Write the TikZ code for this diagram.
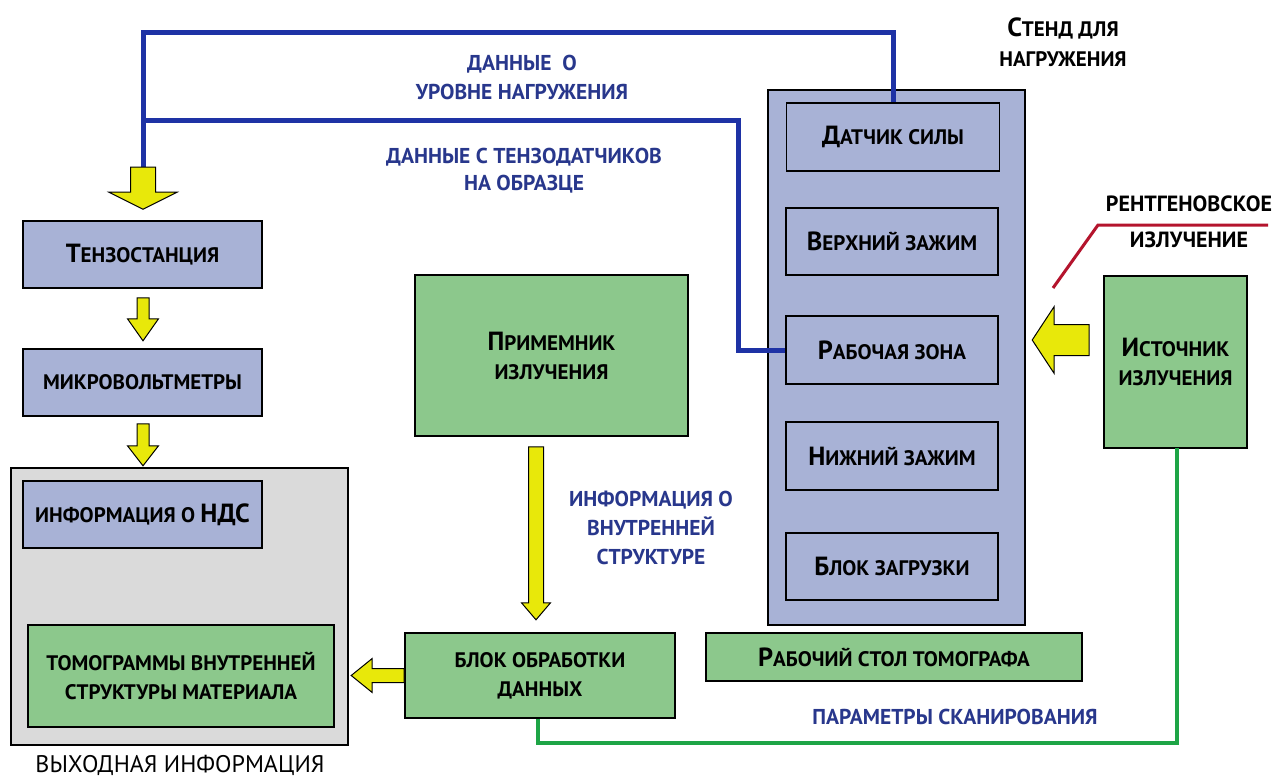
\documentclass[tikz,border=0pt]{standalone}
\usepackage{fontspec}
\setmainfont{PT Sans}
\usetikzlibrary{calc}
\definecolor{bfill}{RGB}{168,178,214}
\definecolor{gfill}{RGB}{140,200,140}
\definecolor{grayfill}{RGB}{218,218,218}
\definecolor{bline}{RGB}{30,50,165}
\definecolor{btext}{RGB}{40,55,140}
\definecolor{gline}{RGB}{30,165,70}
\definecolor{rline}{RGB}{180,20,45}
\definecolor{yel}{RGB}{232,232,10}
\newcommand\Ini[1]{\scalebox{1.25}{#1}}
\newcommand\darr[5]{\filldraw[yarr] (#1) ++(-#3,0) -- ++(0,#2-#5) -- ++(-#4+#3,0) -- ++(#4,#5) -- ++(#4,-#5) -- ++(-#4+#3,0) -- ++(0,-#2+#5) -- cycle;}
\newcommand\larr[5]{\filldraw[yarr] (#1) ++(0,-#3) -- ++(-#2+#5,0) -- ++(0,-#4+#3) -- ++(-#5,#4) -- ++(#5,#4) -- ++(0,-#4+#3) -- ++(#2-#5,0) -- cycle;}
\tikzset{
  box/.style={draw=black, line width=1.6pt, inner sep=0pt, align=center, font=\bfseries\fontsize{21}{29}\selectfont},
  bbox/.style={box, fill=bfill},
  gbox/.style={box, fill=gfill},
  yarr/.style={fill=yel, draw=black, line width=1pt, line join=miter},
  blue line/.style={draw=bline, line width=5pt},
  green line/.style={draw=gline, line width=4pt},
  blab/.style={text=btext, align=center, inner sep=0pt, font=\bfseries\fontsize{21.5}{29}\selectfont},
  plain/.style={align=center, inner sep=0pt, font=\bfseries\fontsize{21}{30}\selectfont}
}
\begin{document}
\begin{tikzpicture}[x=1pt,y=-1pt]
\useasboundingbox[fill=white] (0,0) rectangle (1282,781);
% output group
\node[box, fill=grayfill, minimum width=337, minimum height=277] (out) at (179.5,606.5) {};
\node[bbox, minimum width=239, minimum height=67] (tenzo) at (142.5,254.5) {\Ini{Т}ЕНЗОСТАНЦИЯ};
\node[bbox, minimum width=239, minimum height=67] (micro) at (142.5,382.5) {МИКРОВОЛЬТМЕТРЫ};
\node[bbox, minimum width=239, minimum height=67] (nds) at (142.5,514.5) {ИНФОРМАЦИЯ О \Ini{НДС}};
\node[gbox, minimum width=306, minimum height=102] (tomo) at (181,676) {ТОМОГРАММЫ ВНУТРЕННЕЙ\\СТРУКТУРЫ МАТЕРИАЛА};
\node[plain, font=\fontsize{24}{28}\selectfont] (outlab) at (180,765) {ВЫХОДНАЯ ИНФОРМАЦИЯ};
% centre
\node[gbox, minimum width=273, minimum height=161] (recv) at (551.5,355.5) {\Ini{П}РИМЕМНИК\\ИЗЛУЧЕНИЯ};
\node[gbox, minimum width=270, minimum height=85] (blok) at (540,675.5) {БЛОК ОБРАБОТКИ\\ДАННЫХ};
% stand
\node[bbox, minimum width=257, minimum height=535] (stand) at (896.5,357.5) {};
\node[bbox, minimum width=213, minimum height=68] (datchik) at (893,137) {\Ini{Д}АТЧИК СИЛЫ};
\node[bbox, minimum width=212, minimum height=67] (verh) at (892,241.5) {\Ini{В}ЕРХНИЙ ЗАЖИМ};
\node[bbox, minimum width=212, minimum height=68] (rab) at (892,350) {\Ini{Р}АБОЧАЯ ЗОНА};
\node[bbox, minimum width=212, minimum height=68] (nizh) at (892,456) {\Ini{Н}ИЖНИЙ ЗАЖИМ};
\node[bbox, minimum width=212, minimum height=67] (zagr) at (892,566.5) {\Ini{Б}ЛОК ЗАГРУЗКИ};
\node[gbox, minimum width=376, minimum height=48] (stol) at (894,657) {\Ini{Р}АБОЧИЙ СТОЛ ТОМОГРАФА};
\node[plain] (standlab) at (1063,42) {\Ini{С}ТЕНД ДЛЯ\\НАГРУЖЕНИЯ};
% source
\node[gbox, minimum width=143, minimum height=172] (src) at (1175.5,362) {\Ini{И}СТОЧНИК\\ИЗЛУЧЕНИЯ};
\node[plain, font=\bfseries\fontsize{22}{36}\selectfont] (xray) at (1189,222) {РЕНТГЕНОВСКОЕ\\ИЗЛУЧЕНИЕ};
% blue labels
\node[blab] (l1) at (522,77) {ДАННЫЕ \ О\\УРОВНЕ НАГРУЖЕНИЯ};
\node[blab, font=\bfseries\fontsize{21.5}{27}\selectfont] (l2) at (524,171) {ДАННЫЕ С ТЕНЗОДАТЧИКОВ\\НА ОБРАЗЦЕ};
\node[blab] (l3) at (651,528) {ИНФОРМАЦИЯ О\\ВНУТРЕННЕЙ\\СТРУКТУРЕ};
\node[blab] (l4) at (955,717) {ПАРАМЕТРЫ СКАНИРОВАНИЯ};
% coordinates
\coordinate (a1top) at ($(tenzo.north)+(0.5,-53)$);
\coordinate (a4top) at ($(recv.south)+(-15.5,10)$);
\coordinate (a6r) at ($(src.west)+(-14,-22)$);
\coordinate (rA) at (1268,225);
\coordinate (rB) at (1098,225);
\coordinate (rC) at (1053,288);
% blue connectors
\draw[blue line] (datchik.north) |- (143,33) -- (a1top);
\draw[blue line] (rab.west) -| (738,121) -- (143,121);
% green connector
\draw[green line] ($(blok.south)+(-2,0)$) |- (1177,743) -- (1177,448);
% red x-ray line
\draw[draw=rline, line width=3pt] (rA) -- (rB) -- (rC);
% yellow block arrows
\darr{a1top}{42}{12.5}{34}{17}
\darr{$(tenzo.south)+(0.5,9)$}{43}{6}{15.5}{22}
\darr{$(micro.south)+(0.5,7)$}{42}{6}{15.5}{20}
\darr{a4top}{173}{7.5}{14.5}{17}
\larr{blok.west}{53}{7}{17}{21}
\larr{a6r}{57}{15.5}{33.5}{22}
\end{tikzpicture}
\end{document}
